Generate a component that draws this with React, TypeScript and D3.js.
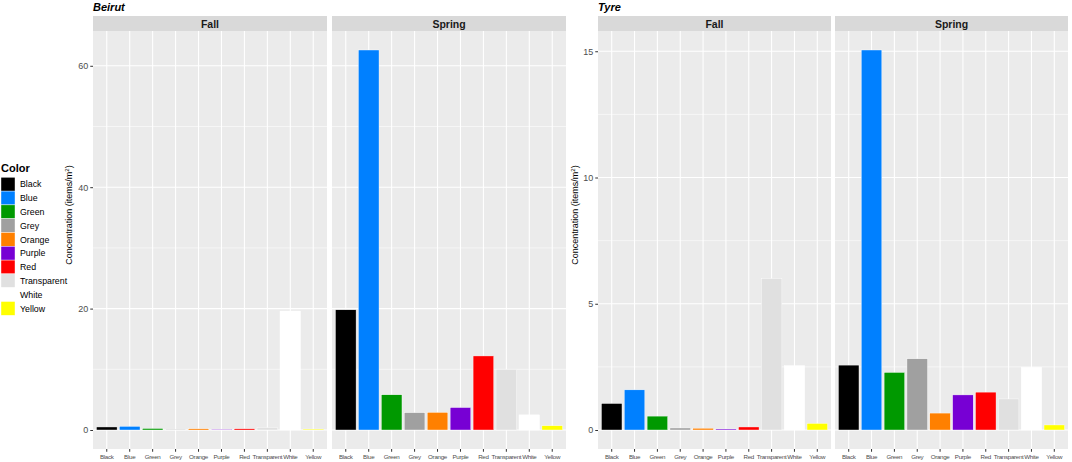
import * as d3 from "d3";
import { useRef, useEffect } from "react";

const categories = [
  "Black",
  "Blue",
  "Green",
  "Grey",
  "Orange",
  "Purple",
  "Red",
  "Transparent",
  "White",
  "Yellow",
];
const fillColors = [
  "#000000",
  "#0080FF",
  "#009900",
  "#A0A0A0",
  "#FF8000",
  "#7700D4",
  "#FF0000",
  "#E0E0E0",
  "#FFFFFF",
  "#FFFF00",
];

const beirutFall = [0.5, 0.6, 0.25, 0.1, 0.2, 0.1, 0.2, 0.4, 19.6, 0.15];
const beirutSpring = [19.8, 62.6, 5.8, 2.85, 2.9, 3.7, 12.2, 10.0, 2.5, 0.7];
const tyreFall = [1.05, 1.59, 0.55, 0.08, 0.07, 0.04, 0.12, 6.0, 2.55, 0.26];
const tyreSpring = [2.57, 15.05, 2.28, 2.82, 0.67, 1.39, 1.5, 1.23, 2.49, 0.2];

const beirutMajor = [0, 20, 40, 60];
const beirutMinor = [10, 30, 50];
const tyreMajor = [0, 5, 10, 15];
const tyreMinor = [2.5, 7.5, 12.5];

const seasons = ["Fall", "Spring"];

const FONT = "'Liberation Sans', Arial, Helvetica, sans-serif";

interface Site {
  name: string;
  fall: number[];
  spring: number[];
  major: number[];
  minor: number[];
  panels: [number, number][];
  titleX: number;
}

const sites: Site[] = [
  {
    name: "Beirut",
    fall: beirutFall,
    spring: beirutSpring,
    major: beirutMajor,
    minor: beirutMinor,
    panels: [
      [93, 327],
      [332, 566],
    ],
    titleX: 72,
  },
  {
    name: "Tyre",
    fall: tyreFall,
    spring: tyreSpring,
    major: tyreMajor,
    minor: tyreMinor,
    panels: [
      [598, 831],
      [835, 1068],
    ],
    titleX: 578,
  },
];

export default function App() {
  const ref = useRef<SVGSVGElement>(null);

  useEffect(() => {
    if (!ref.current) return;
    const svg = d3.select(ref.current);
    svg.selectAll("*").remove();

    const top = 31;
    const bottom = 449;
    const stripTop = 16;

    sites.forEach((site) => {
      const maxV = d3.max([...site.fall, ...site.spring]) || 1;
      const y = d3
        .scaleLinear()
        .domain([-0.05 * maxV, maxV * 1.05])
        .range([bottom, top]);

      // site title
      svg
        .append("text")
        .attr("x", site.panels[0][0])
        .attr("y", 11)
        .attr("font-family", FONT)
        .attr("font-size", 11)
        .attr("font-weight", "bold")
        .attr("font-style", "italic")
        .attr("fill", "#000")
        .text(site.name);

      [site.fall, site.spring].forEach((values, pi) => {
        const [x0, x1] = site.panels[pi];
        const x = d3
          .scaleBand()
          .domain(categories)
          .range([x0, x1])
          .paddingInner(0.1)
          .paddingOuter(0.15);

        const g = svg.append("g");

        // panel background
        g.append("rect")
          .attr("x", x0)
          .attr("y", top)
          .attr("width", x1 - x0)
          .attr("height", bottom - top)
          .attr("fill", "#EBEBEB");

        // strip
        g.append("rect")
          .attr("x", x0)
          .attr("y", stripTop)
          .attr("width", x1 - x0)
          .attr("height", top - stripTop)
          .attr("fill", "#D9D9D9");
        g.append("text")
          .attr("x", (x0 + x1) / 2)
          .attr("y", (stripTop + top) / 2 + 4)
          .attr("text-anchor", "middle")
          .attr("font-family", FONT)
          .attr("font-size", 10.5)
          .attr("font-weight", "bold")
          .attr("fill", "#1A1A1A")
          .text(seasons[pi]);

        // minor horizontal grid
        g.selectAll(".minor")
          .data(site.minor)
          .enter()
          .append("line")
          .attr("x1", x0)
          .attr("x2", x1)
          .attr("y1", (d) => y(d))
          .attr("y2", (d) => y(d))
          .attr("stroke", "#fff")
          .attr("stroke-width", 0.55);

        // major grid
        g.selectAll(".major")
          .data(site.major)
          .enter()
          .append("line")
          .attr("x1", x0)
          .attr("x2", x1)
          .attr("y1", (d) => y(d))
          .attr("y2", (d) => y(d))
          .attr("stroke", "#fff")
          .attr("stroke-width", 1.07);

        g.selectAll(".vgrid")
          .data(categories)
          .enter()
          .append("line")
          .attr("x1", (d) => (x(d) || 0) + x.bandwidth() / 2)
          .attr("x2", (d) => (x(d) || 0) + x.bandwidth() / 2)
          .attr("y1", top)
          .attr("y2", bottom)
          .attr("stroke", "#fff")
          .attr("stroke-width", 1.07);

        // bars
        g.selectAll(".bar")
          .data(values)
          .enter()
          .append("rect")
          .attr("x", (_, i) => x(categories[i]) || 0)
          .attr("width", x.bandwidth())
          .attr("y", (d) => y(d))
          .attr("height", (d) => y(0) - y(d))
          .attr("fill", (_, i) => fillColors[i])
          .attr("stroke", "#fff")
          .attr("stroke-width", 0.4);

        // x axis ticks & labels
        const xa = g
          .append("g")
          .attr("transform", `translate(0,${bottom})`)
          .call(d3.axisBottom(x).tickSize(2.75).tickPadding(2.5));
        xa.select(".domain").remove();
        xa.selectAll("line").attr("stroke", "#333333");
        xa.selectAll("text")
          .attr("font-family", FONT)
          .attr("font-size", 6.2)
          .attr("letter-spacing", -0.3)
          .attr("fill", "#4D4D4D");

        // y axis on first panel
        if (pi === 0) {
          const ya = g
            .append("g")
            .attr("transform", `translate(${x0},0)`)
            .call(
              d3
                .axisLeft(y)
                .tickValues(site.major)
                .tickSize(2.75)
                .tickPadding(2)
            );
          ya.select(".domain").remove();
          ya.selectAll("line").attr("stroke", "#333333");
          ya.selectAll("text")
            .attr("font-family", FONT)
            .attr("font-size", 9)
            .attr("fill", "#4D4D4D");
        }
      });

      // y axis title
      const t = svg
        .append("text")
        .attr(
          "transform",
          `translate(${site.titleX},215) rotate(-90)`
        )
        .attr("text-anchor", "middle")
        .attr("font-family", FONT)
        .attr("font-size", 9)
        .attr("fill", "#000");
      t.append("tspan").text("Concentration (items/m");
      t.append("tspan").attr("font-size", 6).attr("dy", -3).text("2");
      t.append("tspan").attr("dy", 3).text(")");
    });

    // legend
    const legend = svg.append("g");
    legend
      .append("text")
      .attr("x", 1)
      .attr("y", 172)
      .attr("font-family", FONT)
      .attr("font-size", 11)
      .attr("font-weight", "bold")
      .attr("fill", "#000")
      .text("Color");
    const keyH = 13.8;
    categories.forEach((c, i) => {
      const ky = 177.3 + i * keyH;
      legend
        .append("rect")
        .attr("x", 1)
        .attr("y", ky)
        .attr("width", 14)
        .attr("height", keyH)
        .attr("fill", fillColors[i])
        .attr("stroke", "#fff")
        .attr("stroke-width", 0.4);
      legend
        .append("text")
        .attr("x", 20)
        .attr("y", ky + keyH / 2 + 3.2)
        .attr("font-family", FONT)
        .attr("font-size", 8.8)
        .attr("fill", "#000")
        .text(c);
    });
  }, []);

  return (
    <svg
      ref={ref}
      width={1072}
      height={462}
      style={{ position: "absolute", left: 0, top: 0, background: "#fff" }}
    />
  );
}
